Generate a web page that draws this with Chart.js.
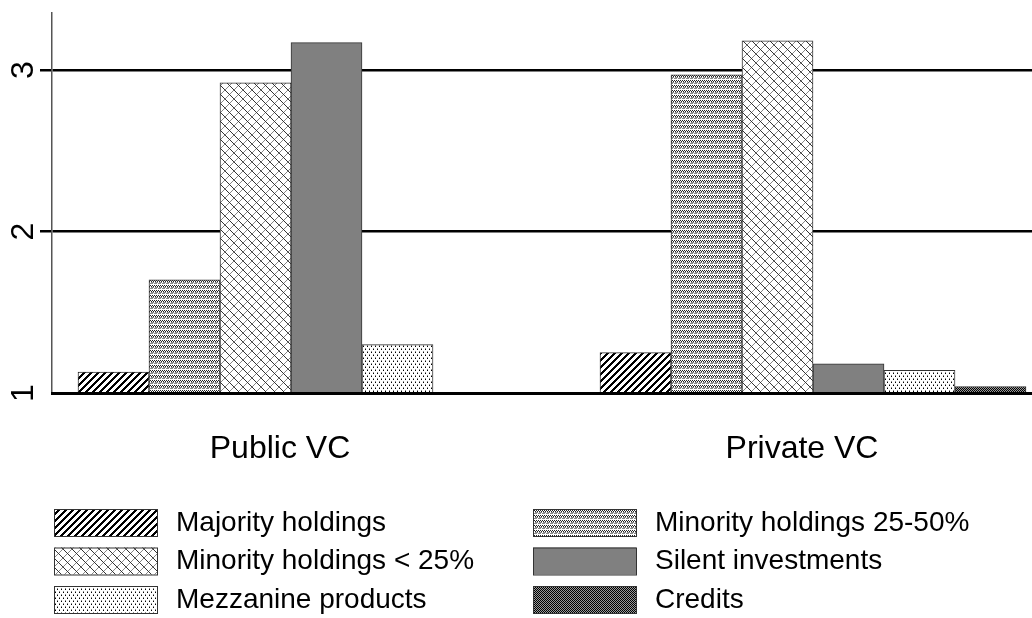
<!DOCTYPE html>
<html>
<head>
<meta charset="utf-8">
<script src="https://cdn.jsdelivr.net/npm/chart.js@4.4.0/dist/chart.umd.min.js"></script>
<style>
  html, body { margin: 0; padding: 0; background: #fff; }
</style>
</head>
<body>
<canvas id="grafico" width="1032" height="618"></canvas>
<script>
// datos
const categorias = ['Public VC', 'Private VC'];
const posiciones = [1, 2];
const series = ['Majority holdings', 'Minority holdings 25-50%', 'Minority holdings < 25%',
                'Silent investments', 'Mezzanine products', 'Credits'];
const majority = [1.13, 1.25];
const minority2550 = [1.70, 2.97];
const minority25 = [2.92, 3.18];
const silent = [3.17, 1.18];
const mezzanine = [1.30, 1.14];
const credits = [1.00, 1.04];
const yTicks = [1, 2, 3];

const fuente = '"Liberation Sans", Arial, sans-serif';
const canvas = document.getElementById('grafico');
const ctx = canvas.getContext('2d');

// texturas
const patron = (w, h, fn) => {
    const c = document.createElement('canvas');
    c.width = w; c.height = h;
    const cx = c.getContext('2d');
    cx.fillStyle = '#fff';
    cx.fillRect(0, 0, w, h);
    for (let y = 0; y < h; y++) {
        for (let x = 0; x < w; x++) {
            const col = fn(x, y);
            if (col) { cx.fillStyle = col; cx.fillRect(x, y, 1, 1); }
        }
    }
    return ctx.createPattern(c, 'repeat');
};
const rayas = patron(7, 7, (x, y) => ((x + y) % 7) < 3 ? '#000' : null);
const ondas = patron(4, 5, (x, y) => {
    if (y === 0) return x % 2 === 0 ? '#222' : null;
    if (y === 1) return x % 2 === 1 ? '#222' : null;
    if (y === 2) return x !== 2 ? '#8a8a8a' : null;
    if (y === 3) return x !== 1 ? '#8a8a8a' : null;
    return null;
});
const rombos = patron(9, 9, (x, y) => {
    if (x === y) return '#333';
    if (x === 8 - y) return '#888';
    return null;
});
const puntos = patron(4, 6, (x, y) => {
    if (x === 1 && y === 0) return '#888';
    if (x === 1 && y === 1) return '#000';
    if (x === 3 && y === 3) return '#888';
    if (x === 3 && y === 4) return '#000';
    return null;
});
const damero = patron(2, 2, (x, y) => (x + y) % 2 === 0 ? '#000' : '#999');

const rellenos = [rayas, ondas, rombos, '#808080', puntos, damero];
const valores = [majority, minority2550, minority25, silent, mezzanine, credits];

const datasets = series.map((nombre, i) => ({
    label: nombre,
    data: valores[i].map((v, j) => ({ x: posiciones[j], y: v })),
    backgroundColor: rellenos[i],
    borderColor: '#333',
    borderWidth: 1,
    borderSkipped: false,
    barThickness: 71
}));

// leyenda en dos columnas
const leyenda = {
    id: 'leyenda',
    afterDraw(chart) {
        const c = chart.ctx;
        chart.data.datasets.forEach((ds, i) => {
            const x = i % 2 === 0 ? 54 : 533;
            const y = 509 + Math.floor(i / 2) * 38.5;
            c.save();
            c.fillStyle = ds.backgroundColor;
            c.fillRect(x, y, 103, 27);
            c.strokeStyle = '#333';
            c.lineWidth = 1;
            c.strokeRect(x + 0.5, y + 0.5, 103, 27);
            c.fillStyle = '#000';
            c.font = '28px ' + fuente;
            c.textBaseline = 'middle';
            c.fillText(ds.label, x + 122, y + 14);
            c.restore();
        });
    }
};

// escala x: px(1)=291, px(2)=813 con area 52..1032
const pxUnidad = 522;
const xMin = 1 - (291 - 52) / pxUnidad;
const xMax = xMin + 980 / pxUnidad;

new Chart(canvas, {
    type: 'bar',
    data: { datasets: datasets },
    options: {
        responsive: false,
        animation: false,
        layout: { padding: { top: 13, bottom: 145, left: 0, right: 0 } },
        plugins: { legend: { display: false }, tooltip: { enabled: false } },
        scales: {
            x: {
                type: 'linear',
                offset: false,
                min: xMin,
                max: xMax,
                afterBuildTicks: (s) => { s.ticks = posiciones.map(v => ({ value: v })); },
                afterFit: (s) => { s.height = 80; s.paddingLeft = 0; s.paddingRight = 0; },
                grid: { display: true, offset: false, color: 'transparent', drawTicks: false },
                border: { display: true, color: '#000', width: 3, z: 1 },
                ticks: {
                    autoSkip: false,
                    maxRotation: 0,
                    padding: 37,
                    labelOffset: -11,
                    color: '#000',
                    font: { family: fuente, size: 32 },
                    callback: (v, i) => categorias[i]
                }
            },
            y: {
                min: 1,
                max: 3.353,
                afterBuildTicks: (s) => { s.ticks = yTicks.map(v => ({ value: v })); },
                afterFit: (s) => { s.width = 52; s.paddingTop = 0; s.paddingBottom = 0; },
                grid: {
                    color: (c) => c.tick && c.tick.value === 1 ? 'transparent' : '#000',
                    tickColor: (c) => c.tick && c.tick.value === 1 ? 'transparent' : '#000',
                    lineWidth: 2.5,
                    tickLength: 12
                },
                border: { display: true, color: '#555', width: 1.5 },
                ticks: {
                    minRotation: 90,
                    maxRotation: 90,
                    crossAlign: 'center',
                    padding: 7,
                    color: '#000',
                    font: { family: fuente, size: 32 },
                    callback: (v) => v
                }
            }
        }
    },
    plugins: [leyenda]
});
</script>
</body>
</html>
